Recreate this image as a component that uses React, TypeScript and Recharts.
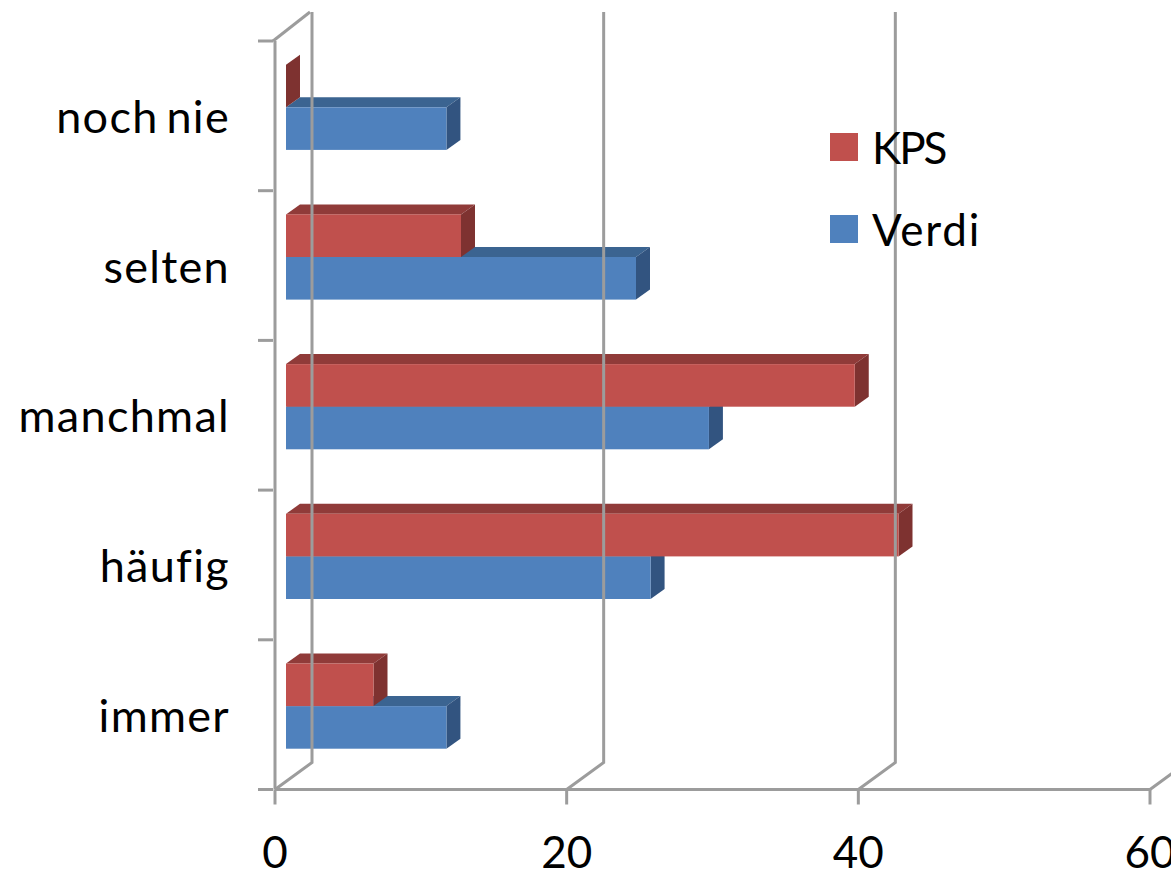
import { BarChart, Bar, XAxis, YAxis, Legend } from "recharts";

const categories = ["noch nie", "selten", "manchmal", "häufig", "immer"];
const verdi = [11, 24, 29, 25, 11];
const kps = [0, 12, 39, 42, 6];
const xTicks = [0, 20, 40, 60];

const data = categories.map((name, i) => ({ name, Verdi: verdi[i], KPS: kps[i] }));

const FONT = "Lato, sans-serif";
const TEXT_SIZE = 44;
const GRID = "#9c9c9c";
const LINE_W = 3;
const BAR_SIZE = 42.6;
const BAND = 149.7;
const PLOT_TOP = 41;
const PLOT_BOTTOM = 789.5;

// depth of the fake 3D wall and of the boxes
const WALL_DX = 37;
const WALL_DY = 27;
const BOX_DX = 14;
const BOX_DY = 10;

function Box3D(props: any) {
  const { x, y, width, height, front, top, side, slotShift } = props;
  const left = x + 11;
  const ty = y + slotShift - 8.3;
  const right = left + width;
  const bottom = ty + height;
  return (
    <g>
      {width > 0 && (
        <polygon
          points={`${left},${ty} ${left + BOX_DX},${ty - BOX_DY} ${right + BOX_DX},${ty - BOX_DY} ${right},${ty}`}
          fill={top}
        />
      )}
      <polygon
        points={`${right},${ty} ${right + BOX_DX},${ty - BOX_DY} ${right + BOX_DX},${bottom - BOX_DY} ${right},${bottom}`}
        fill={side}
      />
      <rect x={left} y={ty} width={width} height={height} fill={front} />
    </g>
  );
}

function ValueTick({ x, payload }: any) {
  const wallX = x + WALL_DX;
  return (
    <g>
      <polyline
        points={`${x},${PLOT_BOTTOM} ${wallX},${PLOT_BOTTOM - WALL_DY} ${wallX},${PLOT_TOP - 29}`}
        fill="none"
        stroke={GRID}
        strokeWidth={LINE_W}
      />
      <text x={x} y={868} textAnchor="middle" fontFamily={FONT} fontSize={TEXT_SIZE} fill="#000">
        {payload.value}
      </text>
    </g>
  );
}

function CategoryTick({ x, y, index, payload }: any) {
  return (
    <g>
      <line x1={x - 15} x2={x} y1={y + BAND / 2} y2={y + BAND / 2} stroke={GRID} strokeWidth={LINE_W} />
      {index === 0 && (
        <>
          <line x1={x - 15} x2={x} y1={y - BAND / 2} y2={y - BAND / 2} stroke={GRID} strokeWidth={LINE_W} />
          <line x1={x} x2={x + WALL_DX} y1={y - BAND / 2} y2={y - BAND / 2 - 29} stroke={GRID} strokeWidth={LINE_W} />
        </>
      )}
      <text
        x={230}
        y={y + 17}
        textAnchor="end"
        fontFamily={FONT}
        fontSize={45}
        letterSpacing={1.3}
        wordSpacing={-5}
        fill="#000"
      >
        {payload.value}
      </text>
    </g>
  );
}

// KPS sits above Verdi, whatever order the payload comes in
function LegendBlock({ payload }: any) {
  const items = [...(payload ?? [])].sort((a: any, b: any) => (a.value === "KPS" ? -1 : b.value === "KPS" ? 1 : 0));
  return (
    <div style={{ fontFamily: FONT, fontSize: TEXT_SIZE, color: "#000" }}>
      {items.map((item: any) => (
        <div key={item.value} style={{ display: "flex", alignItems: "center", height: 82 }}>
          <span style={{ width: 28, height: 28, background: item.color, marginRight: 14 }} />
          <span style={{ letterSpacing: item.value === "KPS" ? -2 : 1.8 }}>{item.value}</span>
        </div>
      ))}
    </div>
  );
}

export default function App() {
  return (
    <div style={{ position: "absolute", left: 0, top: 0, width: 1171, height: 872, overflow: "hidden" }}>
      <BarChart
        width={1171}
        height={872}
        layout="vertical"
        data={data}
        barSize={BAR_SIZE}
        barGap={0}
        margin={{ top: PLOT_TOP, right: 21, bottom: 0, left: 0 }}
      >
        <XAxis
          type="number"
          domain={[0, 60]}
          ticks={xTicks}
          interval={0}
          height={872 - PLOT_BOTTOM}
          stroke={GRID}
          strokeWidth={LINE_W}
          tickSize={15}
          tickLine={{ stroke: GRID, strokeWidth: LINE_W }}
          tick={<ValueTick />}
        />
        <YAxis
          type="category"
          dataKey="name"
          width={275}
          interval={0}
          stroke={GRID}
          strokeWidth={LINE_W}
          tickLine={false}
          tickSize={0}
          tick={<CategoryTick />}
        />
        <Legend
          layout="vertical"
          align="center"
          verticalAlign="middle"
          content={<LegendBlock />}
          wrapperStyle={{ position: "absolute", left: 830, top: 106, width: 200, height: 164 }}
        />
        {/* Verdi goes first so the KPS box paints over its top face; slots are swapped in the shape */}
        <Bar
          dataKey="Verdi"
          fill="#4f81bd"
          isAnimationActive={false}
          shape={(p: any) => <Box3D {...p} front="#4f81bd" top="#3b6491" side="#325480" slotShift={BAR_SIZE} />}
        />
        <Bar
          dataKey="KPS"
          fill="#c0504d"
          isAnimationActive={false}
          shape={(p: any) => <Box3D {...p} front="#c0504d" top="#903b39" side="#7e3230" slotShift={-BAR_SIZE} />}
        />
      </BarChart>
    </div>
  );
}
